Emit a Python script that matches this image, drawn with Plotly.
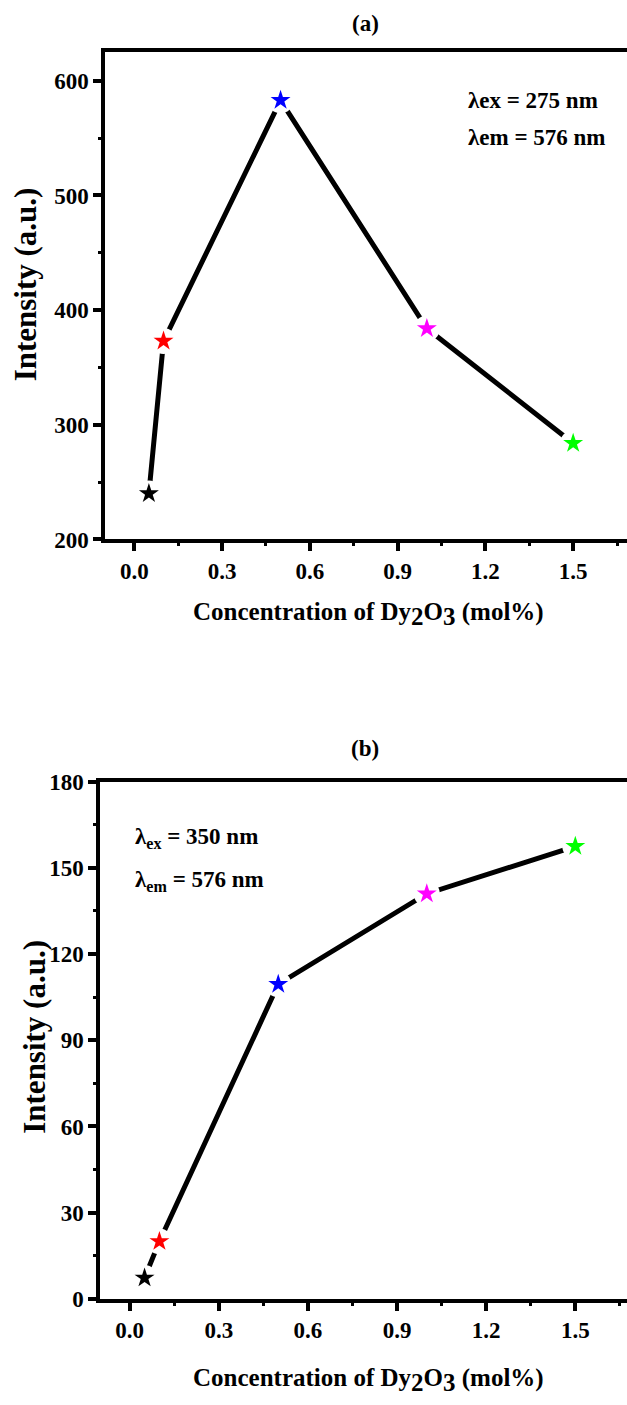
import plotly.graph_objects as go

conc = [0.05, 0.1, 0.5, 1.0, 1.5]
int_a = [240, 373, 583, 384, 284]
int_b = [7.3, 20, 109.5, 141, 157.5]
colors = ["black", "red", "blue", "magenta", "#00ff00"]
xticks = [0.0, 0.3, 0.6, 0.9, 1.2, 1.5]
xticklabels = ["0.0", "0.3", "0.6", "0.9", "1.2", "1.5"]
yticks_a = [200, 300, 400, 500, 600]
yticks_b = [0, 30, 60, 90, 120, 150, 180]

W, H = 627, 1405
FONT = "'Liberation Serif', 'Times New Roman', Times, serif"

fig = go.Figure()
for xa, ya, vals in [("x", "y", int_a), ("x2", "y2", int_b)]:
    fig.add_trace(go.Scatter(
        x=conc, y=vals, xaxis=xa, yaxis=ya, mode="lines",
        line=dict(color="black", width=5), showlegend=False, hoverinfo="skip"))
    fig.add_trace(go.Scatter(
        x=conc, y=vals, xaxis=xa, yaxis=ya, mode="markers",
        marker=dict(symbol="circle", size=26, color="white"),
        showlegend=False, hoverinfo="skip", cliponaxis=False))
    fig.add_trace(go.Scatter(
        x=conc, y=vals, xaxis=xa, yaxis=ya, mode="markers",
        marker=dict(symbol="star", size=15, color=colors, line=dict(width=0)),
        showlegend=False, cliponaxis=False))

def px_x(p):
    return p / W

def px_y(p):
    # compensate for the small vertical offset/scale seen in the rendered picture
    q = (p - 8.7) / 0.9856
    return 1 - q / H

def axis_common(size=23):
    return dict(
        showline=True, linecolor="black", linewidth=3.5,
        ticks="outside", ticklen=8, tickwidth=3.5, tickcolor="black",
        showgrid=False, zeroline=False,
        tickfont=dict(family=FONT, size=size, color="black"),
    )

def minor(vals):
    return dict(tickvals=vals, ticks="outside", ticklen=3, tickwidth=3, tickcolor="black")

xminor = [0.15, 0.45, 0.75, 1.05, 1.35, 1.65]

fig.update_layout(
    width=W, height=H, margin=dict(l=0, r=0, t=0, b=0),
    paper_bgcolor="white", plot_bgcolor="white",
    font=dict(family=FONT, color="black"),
    xaxis=dict(domain=[px_x(105), 1], range=[-0.1, 1.684], anchor="y",
               tickvals=xticks, ticktext=[f"<b>{t}</b>" for t in xticklabels],
               mirror=True, minor=minor(xminor), **axis_common()),
    yaxis=dict(domain=[px_y(538), px_y(49)], range=[200, 625], anchor="x",
               tickvals=yticks_a, ticktext=[f"<b>{v}</b>" for v in yticks_a],
               minor=minor([250, 350, 450, 550]), **axis_common()),
    xaxis2=dict(domain=[px_x(100), 1], range=[-0.1, 1.674], anchor="y2",
                tickvals=xticks, ticktext=[f"<b>{t}</b>" for t in xticklabels],
                mirror=True, minor=minor(xminor), **axis_common()),
    yaxis2=dict(domain=[px_y(1300), px_y(781)], range=[0, 180], anchor="x2",
                tickvals=yticks_b, ticktext=[f"<b>{v}</b>" for v in yticks_b],
                minor=minor([15, 45, 75, 105, 135, 165]), **axis_common()),
)

def ann(text, x, y, size, angle=0, xanchor="center"):
    fig.add_annotation(text=text, x=px_x(x), y=px_y(y), xref="paper", yref="paper",
                       showarrow=False, textangle=angle, xanchor=xanchor, yanchor="middle",
                       font=dict(family=FONT, size=size, color="black"))

ann("<b>(a)</b>", 365, 20, 23)
ann("<b>(b)</b>", 365, 748, 23)
ann("<b>Intensity (a.u.)</b>", 25, 282, 31, angle=-90)
ann("<b>Intensity (a.u.)</b>", 35, 1037, 31, angle=-90)
xt = ("<b>Concentration of Dy<sub><span style='font-size:25px'>2</span></sub>"
      "O<sub><span style='font-size:25px'>3</span></sub> (mol%)</b>")
ann(xt, 368, 613, 25)
ann(xt, 368, 1381, 25)
ann("<b>λex = 275 nm</b>", 466, 98, 23, xanchor="left")
ann("<b>λem = 576 nm</b>", 466, 135, 23, xanchor="left")
ann("<b>λ<sub>ex</sub> = 350 nm</b>", 133, 838, 23, xanchor="left")
ann("<b>λ<sub>em</sub> = 576 nm</b>", 133, 881, 23, xanchor="left")

fig.write_html("out.html")
